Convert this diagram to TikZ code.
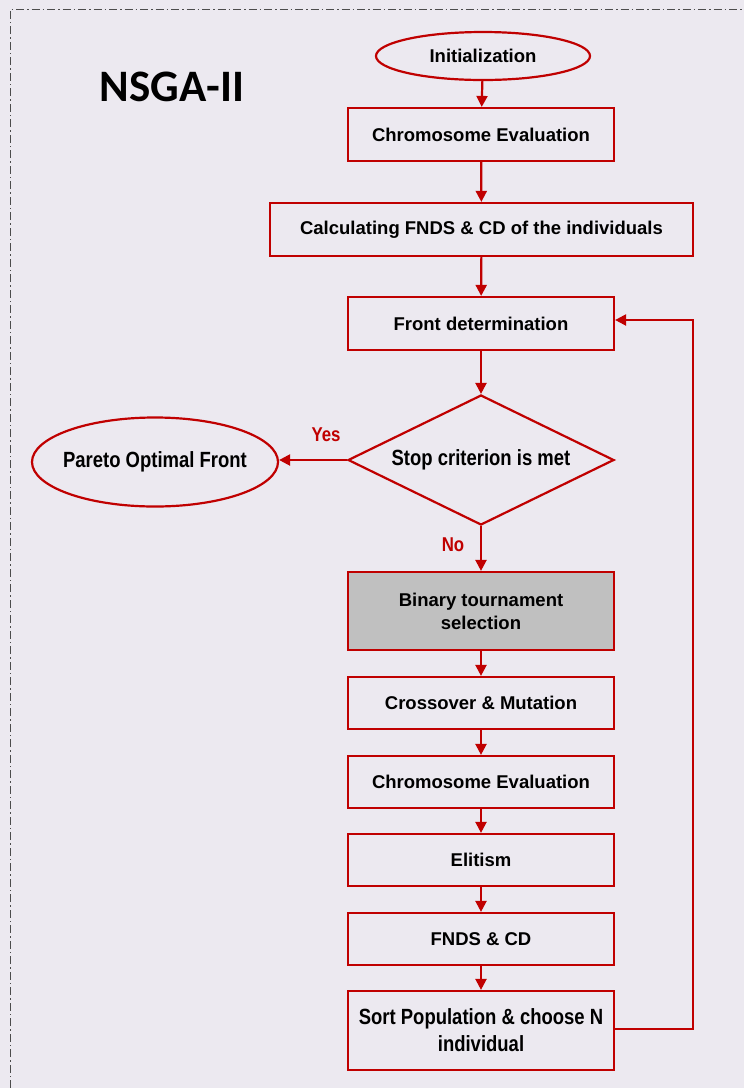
\documentclass[tikz,border=0pt]{standalone}
\usepackage{fontspec}
\setmainfont{Liberation Sans}
\newfontfamily\titlefont{Carlito}
\newfontfamily\narrowfont[FakeStretch=0.84]{Liberation Sans}
\usetikzlibrary{shapes.geometric,arrows.meta}
\definecolor{bg}{HTML}{ECE9F0}
\definecolor{dred}{HTML}{C00000}
\definecolor{greyfill}{HTML}{C0C0C0}
\begin{document}
\begin{tikzpicture}[x=1pt,y=-1pt,
  box/.style={draw=dred,line width=2.2pt,fill=bg,minimum height=53pt,inner sep=2pt,align=center,font=\fontsize{18.5}{23}\selectfont\bfseries},
  oval/.style={ellipse,draw=dred,line width=2.2pt,fill=bg,inner sep=0pt,font=\narrowfont\fontsize{22}{26}\selectfont\bfseries},
  dia/.style={diamond,draw=dred,line width=2.2pt,fill=bg,inner sep=0pt,aspect=2.05,font=\narrowfont\fontsize{22}{26}\selectfont\bfseries},
  arr/.style={draw=dred,line width=2.2pt,-{Triangle[length=11pt,width=11pt]}},
  lbl/.style={text=dred,font=\narrowfont\fontsize{20}{24}\selectfont\bfseries}]
\fill[bg] (0,0) rectangle (744,1088);
\useasboundingbox (0,0) rectangle (744,1088);
\draw[black!70,line width=0.8pt,dash pattern=on 8pt off 3pt on 1.5pt off 3pt] (10,1088) -- (10,9) -- (744,9);
\node[font=\titlefont\fontsize{45}{50}\selectfont\bfseries] (title) at (172,87) {NSGA-II};
\node[oval,minimum width=214pt,minimum height=48pt,font=\fontsize{18.5}{23}\selectfont\bfseries] (init) at (483,56) {Initialization};
\node[box,minimum width=266pt] (ce1) at (481,134.5) {Chromosome Evaluation};
\node[box,minimum width=423pt] (calc) at (481.5,229.5) {Calculating FNDS \& CD of the individuals};
\node[box,minimum width=266pt] (front) at (481,323.5) {Front determination};
\node[dia,minimum width=266pt,minimum height=130pt] (stop) at (481,460) {Stop criterion is met};
\node[oval,minimum width=246pt,minimum height=89pt,label={[font=\narrowfont\fontsize{22}{26}\selectfont\bfseries]center:Pareto Optimal Front}] (pareto) at (155,462) {};
\node[box,minimum width=266pt,minimum height=78pt,fill=greyfill] (bin) at (481,611) {Binary tournament\\selection};
\node[box,minimum width=266pt,minimum height=52pt] (cross) at (481,703) {Crossover \& Mutation};
\node[box,minimum width=266pt,minimum height=52pt] (ce2) at (481,782) {Chromosome Evaluation};
\node[box,minimum width=266pt,minimum height=52pt] (elit) at (481,860) {Elitism};
\node[box,minimum width=266pt,minimum height=52pt] (fnds) at (481,939) {FNDS \& CD};
\node[box,minimum width=266pt,minimum height=79pt,font=\narrowfont\fontsize{22}{27}\selectfont\bfseries] (sort) at (481,1030.5) {Sort Population \& choose N\\individual};
\coordinate (lpA) at (693,1029);
\coordinate (lpB) at (693,320);
\draw[arr] (init) -- (ce1);
\draw[arr] (ce1) -- (calc);
\draw[arr] (calc) -- (front);
\draw[arr] (front) -- (stop);
\draw[arr] (stop.west) -- (stop.west -| pareto.east);
\draw[arr] (stop.south) -- (bin.north);
\draw[arr] (bin) -- (cross);
\draw[arr] (cross) -- (ce2);
\draw[arr] (ce2) -- (elit);
\draw[arr] (elit) -- (fnds);
\draw[arr] (fnds) -- (sort);
\draw[arr] (sort.east |- lpA) -- (lpA) -- (lpB) -- (front.east |- lpB);
\node[lbl] (yes) at (326,435) {Yes};
\node[lbl] (no) at (453,545) {No};
\end{tikzpicture}
\end{document}
